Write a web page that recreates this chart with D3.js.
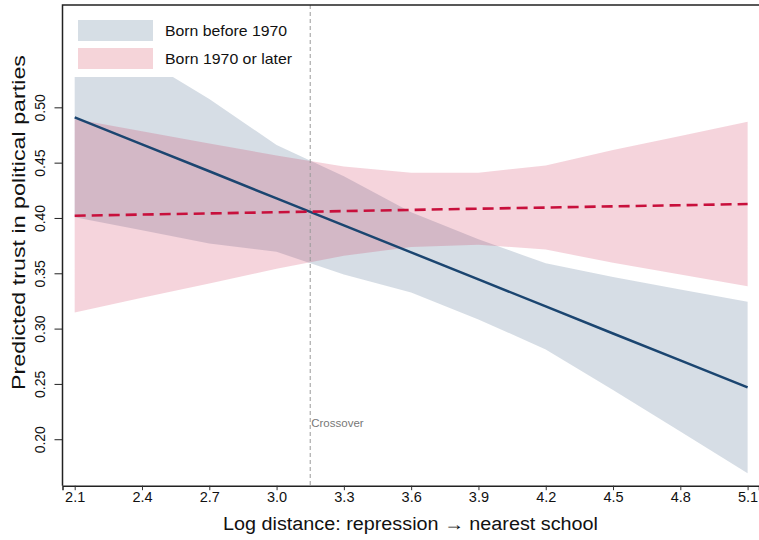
<!DOCTYPE html>
<html>
<head>
<meta charset="utf-8">
<script src="https://cdn.jsdelivr.net/npm/d3@7"></script>
<style>
  body { margin: 0; background: #fff; }
  text { font-family: "Liberation Sans", Arial, Helvetica, sans-serif; }
</style>
</head>
<body>
<script>
(function(){
    // log distance grid
    var distance = [2.1, 2.4, 2.7, 3.0, 3.3, 3.6, 3.9, 4.2, 4.5, 4.8, 5.1];

    // born before 1970
    var oldFit   = [0.4910, 0.4666, 0.4422, 0.4177, 0.3933, 0.3689, 0.3445, 0.3201, 0.2956, 0.2712, 0.2468];
    var oldLower = [0.4006, 0.3888, 0.3769, 0.3694, 0.3489, 0.3327, 0.3083, 0.2812, 0.2446, 0.2071, 0.1693];
    var oldUpper = [0.5814, 0.5444, 0.5075, 0.4660, 0.4377, 0.4051, 0.3807, 0.3590, 0.3466, 0.3353, 0.3243];

    // born 1970 or later
    var youngFit   = [0.4020, 0.4031, 0.4041, 0.4052, 0.4062, 0.4073, 0.4084, 0.4094, 0.4105, 0.4115, 0.4126];
    var youngLower = [0.3146, 0.3278, 0.3408, 0.3540, 0.3659, 0.3737, 0.3759, 0.3714, 0.3596, 0.3489, 0.3382];
    var youngUpper = [0.4894, 0.4784, 0.4674, 0.4564, 0.4465, 0.4409, 0.4409, 0.4474, 0.4614, 0.4741, 0.4870];

    var crossover = 3.15;
    var xTicks = [2.1, 2.4, 2.7, 3.0, 3.3, 3.6, 3.9, 4.2, 4.5, 4.8, 5.1];
    var yTicks = [0.20, 0.25, 0.30, 0.35, 0.40, 0.45, 0.50];
    var legendLabels = ["Born before 1970", "Born 1970 or later"];

    var svgWidth = 759, svgHeight = 540;
    var left = 62.5, right = 759, top = 5, bottom = 485.7;

    var navy = "#1b4570", crimson = "#c8103c";
    var navyBand = "#d6dee5", redBand = "#f5d4d9";

    var svg = d3.select("body").append("svg")
        .attr("width", svgWidth).attr("height", svgHeight);

    var x = d3.scaleLinear().domain([2.0456, 5.1508]).range([left, right]);
    var y = d3.scaleLinear().domain([0.158, 0.5925]).range([bottom, top]);

    function bandData(lo, hi) {
        return distance.map(function (d, i) { return {x: d, lo: lo[i], hi: hi[i]}; });
    }
    function lineData(fit) {
        return distance.map(function (d, i) { return {x: d, y: fit[i]}; });
    }

    var area = d3.area()
        .x(function (d) { return x(d.x); })
        .y0(function (d) { return y(d.lo); })
        .y1(function (d) { return y(d.hi); });
    var line = d3.line()
        .x(function (d) { return x(d.x); })
        .y(function (d) { return y(d.y); });

    svg.append("path").datum(bandData(oldLower, oldUpper))
        .attr("d", area).attr("fill", navy).attr("fill-opacity", 0.18);
    svg.append("path").datum(bandData(youngLower, youngUpper))
        .attr("d", area).attr("fill", crimson).attr("fill-opacity", 0.18);

    // crossover marker
    svg.append("line")
        .attr("x1", x(crossover)).attr("x2", x(crossover))
        .attr("y1", top).attr("y2", bottom)
        .attr("stroke", "#999").attr("stroke-width", 1)
        .attr("stroke-dasharray", "4,3");
    svg.append("text")
        .attr("x", x(crossover) + 1).attr("y", 427)
        .attr("font-size", 11.5).attr("fill", "#777")
        .text("Crossover");

    svg.append("path").datum(lineData(oldFit))
        .attr("d", line).attr("fill", "none")
        .attr("stroke", navy).attr("stroke-width", 2.5);
    svg.append("path").datum(lineData(youngFit))
        .attr("d", line).attr("fill", "none")
        .attr("stroke", crimson).attr("stroke-width", 2.6)
        .attr("stroke-dasharray", "11,6");

    // legend with white background
    svg.append("rect").attr("x", left + 4).attr("y", top + 5)
        .attr("width", 236).attr("height", 77 - top - 5)
        .attr("fill", "#fff");
    var legendWidths = [122, 127];
    var legend = svg.selectAll("g.legend").data(legendLabels).enter()
        .append("g").attr("class", "legend")
        .attr("transform", function (d, i) { return "translate(78," + (20 + i * 28) + ")"; });
    legend.append("rect").attr("width", 75).attr("height", 21)
        .attr("fill", function (d, i) { return i === 0 ? navyBand : redBand; });
    legend.append("text").attr("x", 87).attr("y", 15.8)
        .attr("font-size", 15).attr("fill", "#111")
        .attr("textLength", function (d, i) { return legendWidths[i]; })
        .attr("lengthAdjust", "spacingAndGlyphs")
        .text(function (d) { return d; });

    // frame
    svg.append("path")
        .attr("d", "M" + left + "," + bottom + "V" + top + "H" + (right + 2))
        .attr("fill", "none").attr("stroke", "#222").attr("stroke-width", 1.5);

    var xAxis = svg.append("g").attr("transform", "translate(0," + bottom + ")")
        .call(d3.axisBottom(x).tickValues(xTicks).tickFormat(d3.format(".1f")).tickSize(4.5).tickPadding(2));
    xAxis.select(".domain").attr("stroke", "#222").attr("stroke-width", 1.5);
    xAxis.selectAll(".tick line").attr("stroke", "#333");
    xAxis.selectAll(".tick text").attr("font-size", 14.5).attr("fill", "#111")
        .attr("font-family", "Liberation Sans, Arial, sans-serif");

    var yAxis = svg.append("g").attr("transform", "translate(" + left + ",0)")
        .call(d3.axisLeft(y).tickValues(yTicks).tickFormat(d3.format(".2f")).tickSize(8));
    yAxis.select(".domain").remove();
    yAxis.selectAll(".tick line").attr("stroke", "#222");
    yAxis.selectAll(".tick text")
        .attr("font-size", 14).attr("fill", "#111")
        .attr("font-family", "Liberation Sans, Arial, sans-serif")
        .attr("x", null).attr("dy", null)
        .attr("text-anchor", "middle")
        .attr("transform", "translate(-22,0) rotate(-90)")
        .attr("y", 0).attr("dy", "0.35em");

    svg.append("text")
        .attr("x", 410.5).attr("y", 530)
        .attr("text-anchor", "middle").attr("font-size", 18).attr("fill", "#111")
        .attr("textLength", 375).attr("lengthAdjust", "spacingAndGlyphs")
        .text("Log distance: repression \u2192 nearest school");

    svg.append("text")
        .attr("transform", "translate(25,222.5) rotate(-90)")
        .attr("text-anchor", "middle").attr("font-size", 17.5).attr("fill", "#111")
        .attr("textLength", 335).attr("lengthAdjust", "spacingAndGlyphs")
        .text("Predicted trust in political parties");
})();
</script>
</body>
</html>
